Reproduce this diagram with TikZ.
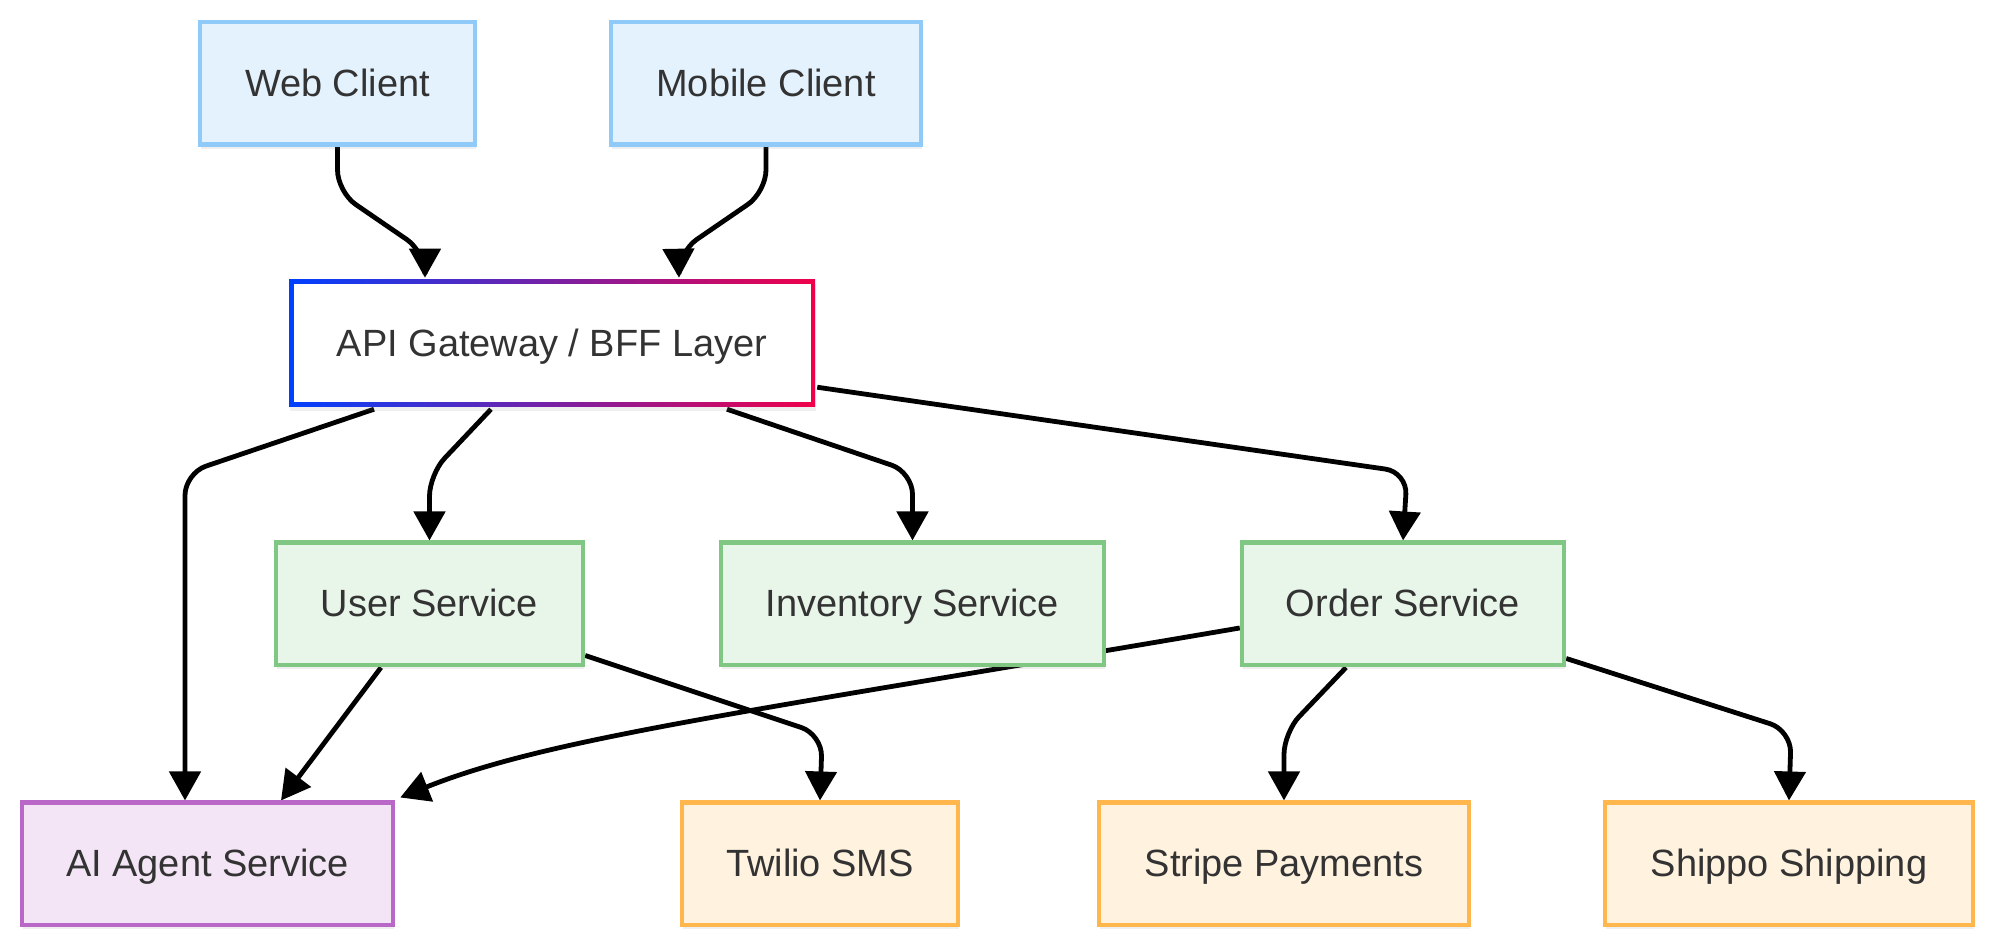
\documentclass[tikz,border=0pt]{standalone}
\usepackage{fontspec}
\setmainfont{Liberation Sans}
\usetikzlibrary{arrows.meta,shadows,backgrounds}
\definecolor{ClientFill}{HTML}{E3F2FD}
\definecolor{ClientLine}{HTML}{90CAF9}
\definecolor{SvcFill}{HTML}{E8F5E9}
\definecolor{SvcLine}{HTML}{81C784}
\definecolor{AgentFill}{HTML}{F3E5F5}
\definecolor{AgentLine}{HTML}{BA68C8}
\definecolor{ExtFill}{HTML}{FFF3E0}
\definecolor{ExtLine}{HTML}{FFB74D}
\definecolor{GateBlue}{HTML}{0040FF}
\definecolor{GateRed}{HTML}{F0004A}
\definecolor{LabelGrey}{HTML}{333333}

\begin{document}
\begin{tikzpicture}[x=1cm,y=1cm,
  box/.style={rectangle,line width=0.045cm,minimum height=1.225cm,
    font=\fontsize{10.8}{13}\selectfont,text=LabelGrey,
    text height=0.72em,text depth=0em,
    drop shadow={opacity=0.12,shadow xshift=0.4pt,shadow yshift=-1.2pt}},
  client/.style={box,draw=ClientLine,fill=ClientFill},
  svc/.style={box,draw=SvcLine,fill=SvcFill},
  agent/.style={box,draw=AgentLine,fill=AgentFill},
  ext/.style={box,draw=ExtLine,fill=ExtFill},
  gate/.style={box,draw=none,fill=white,minimum height=1.27cm,
    path picture={
      \shade[left color=GateBlue,right color=GateRed]
        (path picture bounding box.south west) rectangle (path picture bounding box.north east);
      \fill[white] ([shift={(0.045cm,0.045cm)}]path picture bounding box.south west)
        rectangle ([shift={(-0.045cm,-0.045cm)}]path picture bounding box.north east);
    }},
  flow/.style={draw=black,line width=0.048cm,rounded corners=0.22cm,
    -{Triangle[length=0.29cm,width=0.31cm]}}
]
\path[use as bounding box] (0,0) rectangle (19.99,9.50);

% clients
\node[client,minimum width=2.75cm] (web) at (3.375,8.665) {Web Client};
\node[client,minimum width=3.10cm] (mobile) at (7.66,8.665) {Mobile Client};
% gateway
\node[gate,minimum width=5.26cm] (api) at (5.52,6.065) {API Gateway / BFF Layer};
% services
\node[svc,minimum width=3.07cm] (user) at (4.295,3.46) {User Service};
\node[svc,minimum width=3.83cm] (inventory) at (9.125,3.46) {Inventory Service};
\node[svc,minimum width=3.22cm] (order) at (14.03,3.46) {Order Service};
% bottom row
\node[agent,minimum width=3.71cm] (ai) at (2.075,0.86) {AI Agent Service};
\node[ext,minimum width=2.76cm] (twilio) at (8.20,0.86) {Twilio SMS};
\node[ext,minimum width=3.70cm] (stripe) at (12.84,0.86) {Stripe Payments};
\node[ext,minimum width=3.68cm] (shippo) at (17.89,0.86) {Shippo Shipping};

\begin{scope}[on background layer]
\fill[white] (0,0) rectangle (19.99,9.50);
\draw[flow] (web.south) -- ++(0,-0.45) -- ++(0.875,-0.6) -- ([xshift=-1.27cm]api.north);
\draw[flow] (mobile.south) -- ++(0,-0.45) -- ++(-0.875,-0.6) -- ([xshift=1.27cm]api.north);
\draw[flow] ([xshift=-1.78cm]api.south) -- ++(-1.89,-0.64) -- ([xshift=-0.225cm]ai.north);
\draw[flow] ([xshift=-0.61cm]api.south) -- ++(-0.615,-0.65) -- (user.north);
\draw[flow] ([xshift=1.75cm]api.south) -- ++(1.855,-0.63) -- (inventory.north);
\draw[flow] ([yshift=0.22cm]api.south east) -- ++(5.9,-0.85) -- (order.north);
\draw[flow] ([xshift=-0.485cm]user.south) -- ([xshift=0.735cm]ai.north);
\draw[flow] ([yshift=0.12cm]user.south east) -- ++(2.37,-0.79) -- (twilio.north);
\draw[flow] ([yshift=-0.24cm]order.west) .. controls +(-4.92,-0.84) and +(1.5,0.6) .. ([xshift=0.05cm,yshift=0.03cm]ai.north east);
\draw[flow] ([xshift=-0.57cm]order.south) -- ++(-0.62,-0.65) -- (stripe.north);
\draw[flow] ([yshift=0.09cm]order.south east) -- ++(2.25,-0.72) -- (shippo.north);
\end{scope}
\end{tikzpicture}
\end{document}
